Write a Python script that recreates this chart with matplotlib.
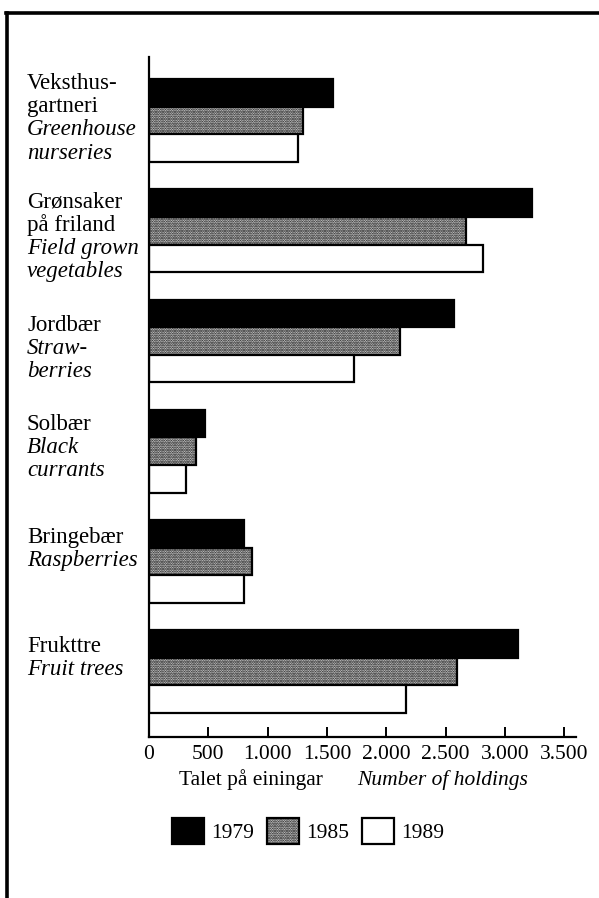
import matplotlib
matplotlib.use("Agg")
import matplotlib.pyplot as plt
from matplotlib.lines import Line2D
from matplotlib.transforms import blended_transform_factory
import numpy as np

plt.rcParams['font.family'] = ['Liberation Serif', 'DejaVu Serif']
plt.rcParams['hatch.linewidth'] = 1.2

# ---- data ----
cat_no = [["Veksthus-", "gartneri"], ["Grønsaker", "på friland"], ["Jordbær"],
          ["Solbær"], ["Bringebær"], ["Frukttre"]]
cat_en = [["Greenhouse", "nurseries"], ["Field grown", "vegetables"], ["Straw-", "berries"],
          ["Black", "currants"], ["Raspberries"], ["Fruit trees"]]
years = ["1979", "1985", "1989"]
v1979 = [1550, 3230, 2570, 470, 800, 3110]
v1985 = [1300, 2670, 2120, 400, 870, 2600]
v1989 = [1260, 2820, 1730, 310, 800, 2170]
xticks = [0, 500, 1000, 1500, 2000, 2500, 3000, 3500]
xticklabels = ["0", "500", "1.000", "1.500", "2.000", "2.500", "3.000", "3.500"]
xlabel_no = "Talet på einingar"
xlabel_en = "Number of holdings"

# ---- layout ----
W, H = 599, 898
fig = plt.figure(figsize=(W / 100, H / 100), dpi=100)
ax = fig.add_axes([149 / W, (H - 737) / H, (576 - 149) / W, (737 - 57) / H])

series = [v1979, v1985, v1989]
styles = [dict(facecolor='black', edgecolor='black', hatch=None),
          dict(facecolor='#e6e6e6', edgecolor='black', hatch='.......'),
          dict(facecolor='white', edgecolor='black', hatch=None)]
bh = 0.25
ypos = np.arange(len(cat_no))
handles = []
for k, (vals, st) in enumerate(zip(series, styles)):
    b = ax.barh(ypos + (k - 1) * bh, vals, height=bh, linewidth=1.6,
                label=years[k], **st)
    handles.append(b)

ax.set_xlim(0, 3600)
ax.set_ylim(5.593, -0.577)
ax.set_yticks([])
ax.set_xticks(xticks)
ax.set_xticklabels(xticklabels, fontsize=15.5)
ax.tick_params(axis='x', direction='in', length=7, width=1.4, pad=6)
for s in ['top', 'right']:
    ax.spines[s].set_visible(False)
ax.spines['left'].set_linewidth(1.6)
ax.spines['bottom'].set_linewidth(1.6)

# category labels
first_off = [-0.341, -0.263, -0.145, -0.245, -0.218, -0.227]
line_h = 0.212
tr = blended_transform_factory(fig.transFigure, ax.transData)
for i in range(len(cat_no)):
    y = i + first_off[i]
    for ln in cat_no[i]:
        ax.text(27 / W, y, ln, transform=tr, fontsize=16.5, ha='left', va='center',
                clip_on=False)
        y += line_h
    for ln in cat_en[i]:
        ax.text(27 / W, y, ln, transform=tr, fontsize=16.5, style='italic',
                ha='left', va='center', clip_on=False)
        y += line_h

# x label (two parts)
fig.text(179 / W, 1 - 780 / H, xlabel_no, fontsize=15.5, ha='left', va='center')
fig.text(528 / W, 1 - 780 / H, xlabel_en, fontsize=15.5, style='italic', ha='right',
         va='center')

# legend
fig.legend(handles=handles, labels=years, loc='center left',
           bbox_to_anchor=(172 / W, 1 - 831 / H), ncol=3, frameon=False,
           fontsize=15.5, handlelength=1.5, handleheight=1.5, handletextpad=0.3,
           columnspacing=0.62, borderpad=0, borderaxespad=0)

# page frame
fig.add_artist(Line2D([7 / W, 7 / W], [0, 1 - 13 / H], color='black', linewidth=2.6,
                      transform=fig.transFigure))
fig.add_artist(Line2D([6 / W, 1], [1 - 13 / H, 1 - 13 / H], color='black', linewidth=2.6,
                      transform=fig.transFigure))

fig.savefig("out.png", dpi=100)
